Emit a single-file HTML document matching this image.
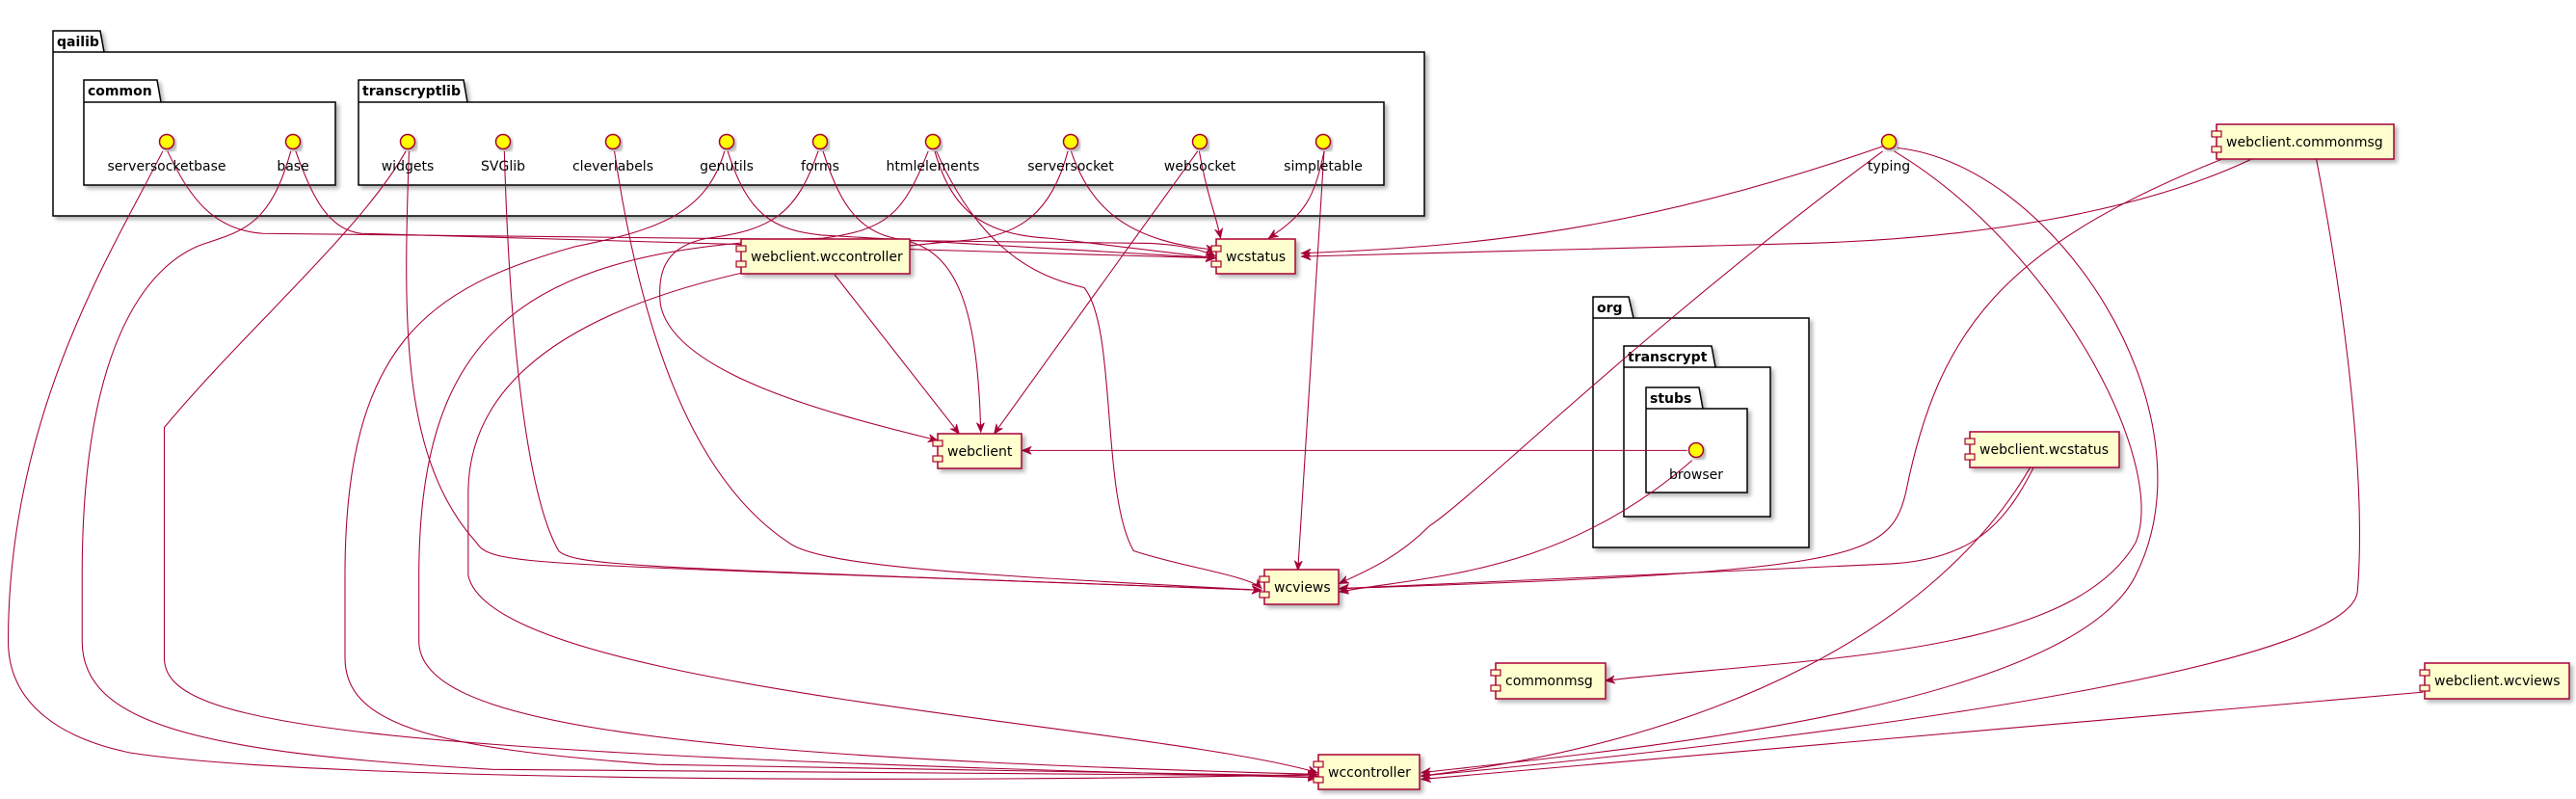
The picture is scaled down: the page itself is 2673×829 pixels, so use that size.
<!DOCTYPE html>
<html><head><meta charset="utf-8"><style>
html,body{margin:0;padding:0;background:#fff}
svg{display:block}
text{font-family:"DejaVu Sans","Liberation Sans",sans-serif;font-size:14px;fill:#000}
.pt{font-weight:bold}
.pk{fill:#fff;stroke:#000;stroke-width:1.5;filter:url(#sh)}
.bx{fill:#FEFECE;stroke:#A80036;stroke-width:1.5;filter:url(#sh)}
.sm{fill:#FEFECE;stroke:#A80036;stroke-width:1.2}
.ci{fill:#FFFF00;stroke:#A80036;stroke-width:1.5;filter:url(#sh)}
.e path{fill:none;stroke:#A80036;stroke-width:0.62;marker-end:url(#ar)}
</style></head><body>
<svg width="2673" height="829" viewBox="0 0 2673 829" xmlns="http://www.w3.org/2000/svg">
<defs>
<filter id="sh" x="-10%" y="-10%" width="130%" height="130%"><feDropShadow dx="3" dy="3" stdDeviation="2" flood-color="#000" flood-opacity="0.3"/></filter>
<marker id="ar" markerWidth="7" markerHeight="6" refX="6" refY="2.5" orient="auto" markerUnits="userSpaceOnUse"><path d="M0,0 L6,2.5 L0,5 L1.8,2.5 Z" fill="#A80036" stroke="#A80036" stroke-width="0.3"/></marker>
</defs>

<path class="pk" d="M55,54 L55,32 L104,32 L108,54 L1478,54 L1478,224 L55,224 Z"/>
<line x1="55" y1="54" x2="108" y2="54" stroke="#000" stroke-width="1.5"/>
<text class="pt" x="59" y="48">qailib</text>
<path class="pk" d="M87,106 L87,83 L163,83 L167,106 L348,106 L348,192 L87,192 Z"/>
<line x1="87" y1="106" x2="167" y2="106" stroke="#000" stroke-width="1.5"/>
<text class="pt" x="91" y="99">common</text>
<path class="pk" d="M372,106 L372,83 L481,83 L485,106 L1436,106 L1436,192 L372,192 Z"/>
<line x1="372" y1="106" x2="485" y2="106" stroke="#000" stroke-width="1.5"/>
<text class="pt" x="376" y="99">transcryptlib</text>

<path class="pk" d="M1653,330 L1653,308 L1690,308 L1695,330 L1877,330 L1877,568 L1653,568 Z"/>
<line x1="1653" y1="330" x2="1695" y2="330" stroke="#000" stroke-width="1.5"/>
<text class="pt" x="1657" y="324">org</text>
<path class="pk" d="M1685,381 L1685,359 L1776,359 L1780,381 L1837,381 L1837,536 L1685,536 Z"/>
<line x1="1685" y1="381" x2="1780" y2="381" stroke="#000" stroke-width="1.5"/>
<text class="pt" x="1689" y="375">transcrypt</text>
<path class="pk" d="M1708,424 L1708,402 L1763,402 L1767,424 L1813,424 L1813,511 L1708,511 Z"/>
<line x1="1708" y1="424" x2="1767" y2="424" stroke="#000" stroke-width="1.5"/>
<text class="pt" x="1712" y="418">stubs</text>

<g class="e" transform="scale(1.7047,1.7058)">
<path d="M102,92 C115,120 130,140 160,142 L700,148 C720,149 732,152 740,156"/>
<path d="M99,92 C70,150 5,250 5,390 C5,430 40,450 80,458 C200,476 600,476 802,471"/>
<path d="M180,92 C190,120 200,140 220,142 L740,157"/>
<path d="M177,92 C165,135 150,140 125,148 C95,158 50,200 50,350 L50,390 C50,440 120,458 300,468 L802,472"/>
<path d="M249,92 C245,200 245,280 290,330 C300,345 320,342 768,359"/>
<path d="M247,92 C220,140 150,200 100,260 L100,400 C100,440 200,458 802,473"/>
<path d="M307,92 C310,200 320,300 340,335 C350,345 400,345 768,359"/>
<path d="M374,92 C390,200 420,290 480,330 C500,345 600,350 768,359"/>
<path d="M443,92 C455,130 470,140 500,143 L740,157"/>
<path d="M441,92 C430,130 400,140 350,150 C260,175 210,210 210,350 L210,400 C210,440 260,455 400,465 L802,472"/>
<path d="M498,92 C485,130 470,140 430,145 C405,150 400,165 402,185 C410,230 520,255 571,268"/>
<path d="M501,92 C510,120 520,140 545,145 C580,150 595,180 597,263"/>
<path d="M569,92 C580,130 600,143 640,145 L740,157"/>
<path d="M570,92 C600,160 640,170 660,175 C680,200 670,300 690,335 C720,345 760,350 768,358"/>
<path d="M565,92 C550,130 540,140 500,145 C320,150 255,200 255,350 L255,390 C255,440 400,460 802,471"/>
<path d="M652,92 C665,130 690,147 740,152"/>
<path d="M650,92 C640,130 620,143 590,146 C420,160 285,200 285,300 L285,350 C300,420 700,440 802,470"/>
<path d="M730,92 C735,120 740,130 743,145"/>
<path d="M729,92 L605,264"/>
<path d="M806,92 C800,120 795,130 772,145"/>
<path d="M806,92 L790,347"/>
<path d="M1146,89 C1000,140 900,150 792,154"/>
<path d="M1146,92 C1000,200 900,300 870,320 C850,340 830,348 815,355"/>
<path d="M1153,92 C1250,150 1320,280 1300,330 C1260,400 1100,400 977,414"/>
<path d="M1155,90 C1250,100 1350,250 1300,350 C1260,430 1000,455 865,470"/>
<path d="M1370,97 C1300,130 1200,145 1100,148 L792,156"/>
<path d="M1352,97 C1220,150 1180,200 1160,300 C1150,340 1130,348 815,358"/>
<path d="M1410,97 C1430,200 1440,300 1435,360 C1430,400 1200,440 865,472"/>
<path d="M1238,284 C1220,320 1200,340 1150,343 L815,358"/>
<path d="M1236,284 C1180,380 1050,450 865,472"/>
<path d="M1475,421 L865,474"/>
<path d="M1027,274 L622,274"/>
<path d="M1030,280 C950,350 870,350 815,360"/>
<path d="M508,167 L584,264"/>
</g>

<g>
<circle class="ci" cx="173" cy="147" r="7.5"/><text x="173" y="177" text-anchor="middle">serversocketbase</text>
<circle class="ci" cx="304" cy="147" r="7.5"/><text x="304" y="177" text-anchor="middle">base</text>
<circle class="ci" cx="423" cy="147" r="7.5"/><text x="423" y="177" text-anchor="middle">widgets</text>
<circle class="ci" cx="522" cy="147" r="7.5"/><text x="522" y="177" text-anchor="middle">SVGlib</text>
<circle class="ci" cx="636" cy="147" r="7.5"/><text x="636" y="177" text-anchor="middle">cleverlabels</text>
<circle class="ci" cx="754" cy="147" r="7.5"/><text x="754" y="177" text-anchor="middle">genutils</text>
<circle class="ci" cx="851" cy="147" r="7.5"/><text x="851" y="177" text-anchor="middle">forms</text>
<circle class="ci" cx="968" cy="147" r="7.5"/><text x="968" y="177" text-anchor="middle">htmlelements</text>
<circle class="ci" cx="1111" cy="147" r="7.5"/><text x="1111" y="177" text-anchor="middle">serversocket</text>
<circle class="ci" cx="1245" cy="147" r="7.5"/><text x="1245" y="177" text-anchor="middle">websocket</text>
<circle class="ci" cx="1373" cy="147" r="7.5"/><text x="1373" y="177" text-anchor="middle">simpletable</text>
<circle class="ci" cx="1960" cy="147" r="7.5"/><text x="1960" y="177" text-anchor="middle">typing</text>
<circle class="ci" cx="1760" cy="467" r="7.5"/><text x="1760" y="497" text-anchor="middle">browser</text>
</g>

<g>
<rect class="bx" x="1262" y="248" width="82" height="36"/><rect class="sm" x="1257" y="255" width="10" height="6"/><rect class="sm" x="1257" y="271" width="10" height="6"/><text x="1272" y="271">wcstatus</text>
<rect class="bx" x="769" y="248" width="175" height="36"/><rect class="sm" x="764" y="255" width="10" height="6"/><rect class="sm" x="764" y="271" width="10" height="6"/><text x="779" y="271">webclient.wccontroller</text>
<rect class="bx" x="973" y="450" width="87" height="36"/><rect class="sm" x="968" y="457" width="10" height="6"/><rect class="sm" x="968" y="473" width="10" height="6"/><text x="983" y="473">webclient</text>
<rect class="bx" x="1312" y="591" width="77" height="36"/><rect class="sm" x="1307" y="598" width="10" height="6"/><rect class="sm" x="1307" y="614" width="10" height="6"/><text x="1322" y="614">wcviews</text>
<rect class="bx" x="1552" y="688" width="114" height="37"/><rect class="sm" x="1547" y="695" width="10" height="6"/><rect class="sm" x="1547" y="711" width="10" height="6"/><text x="1562" y="711">commonmsg</text>
<rect class="bx" x="1368" y="783" width="105" height="36"/><rect class="sm" x="1363" y="790" width="10" height="6"/><rect class="sm" x="1363" y="806" width="10" height="6"/><text x="1378" y="806">wccontroller</text>
<rect class="bx" x="2300" y="129" width="184" height="36"/><rect class="sm" x="2295" y="136" width="10" height="6"/><rect class="sm" x="2295" y="152" width="10" height="6"/><text x="2310" y="152">webclient.commonmsg</text>
<rect class="bx" x="2044" y="448" width="155" height="37"/><rect class="sm" x="2039" y="455" width="10" height="6"/><rect class="sm" x="2039" y="471" width="10" height="6"/><text x="2054" y="471">webclient.wcstatus</text>
<rect class="bx" x="2516" y="688" width="150" height="37"/><rect class="sm" x="2511" y="695" width="10" height="6"/><rect class="sm" x="2511" y="711" width="10" height="6"/><text x="2526" y="711">webclient.wcviews</text>
</g>
</svg>
</body></html>
